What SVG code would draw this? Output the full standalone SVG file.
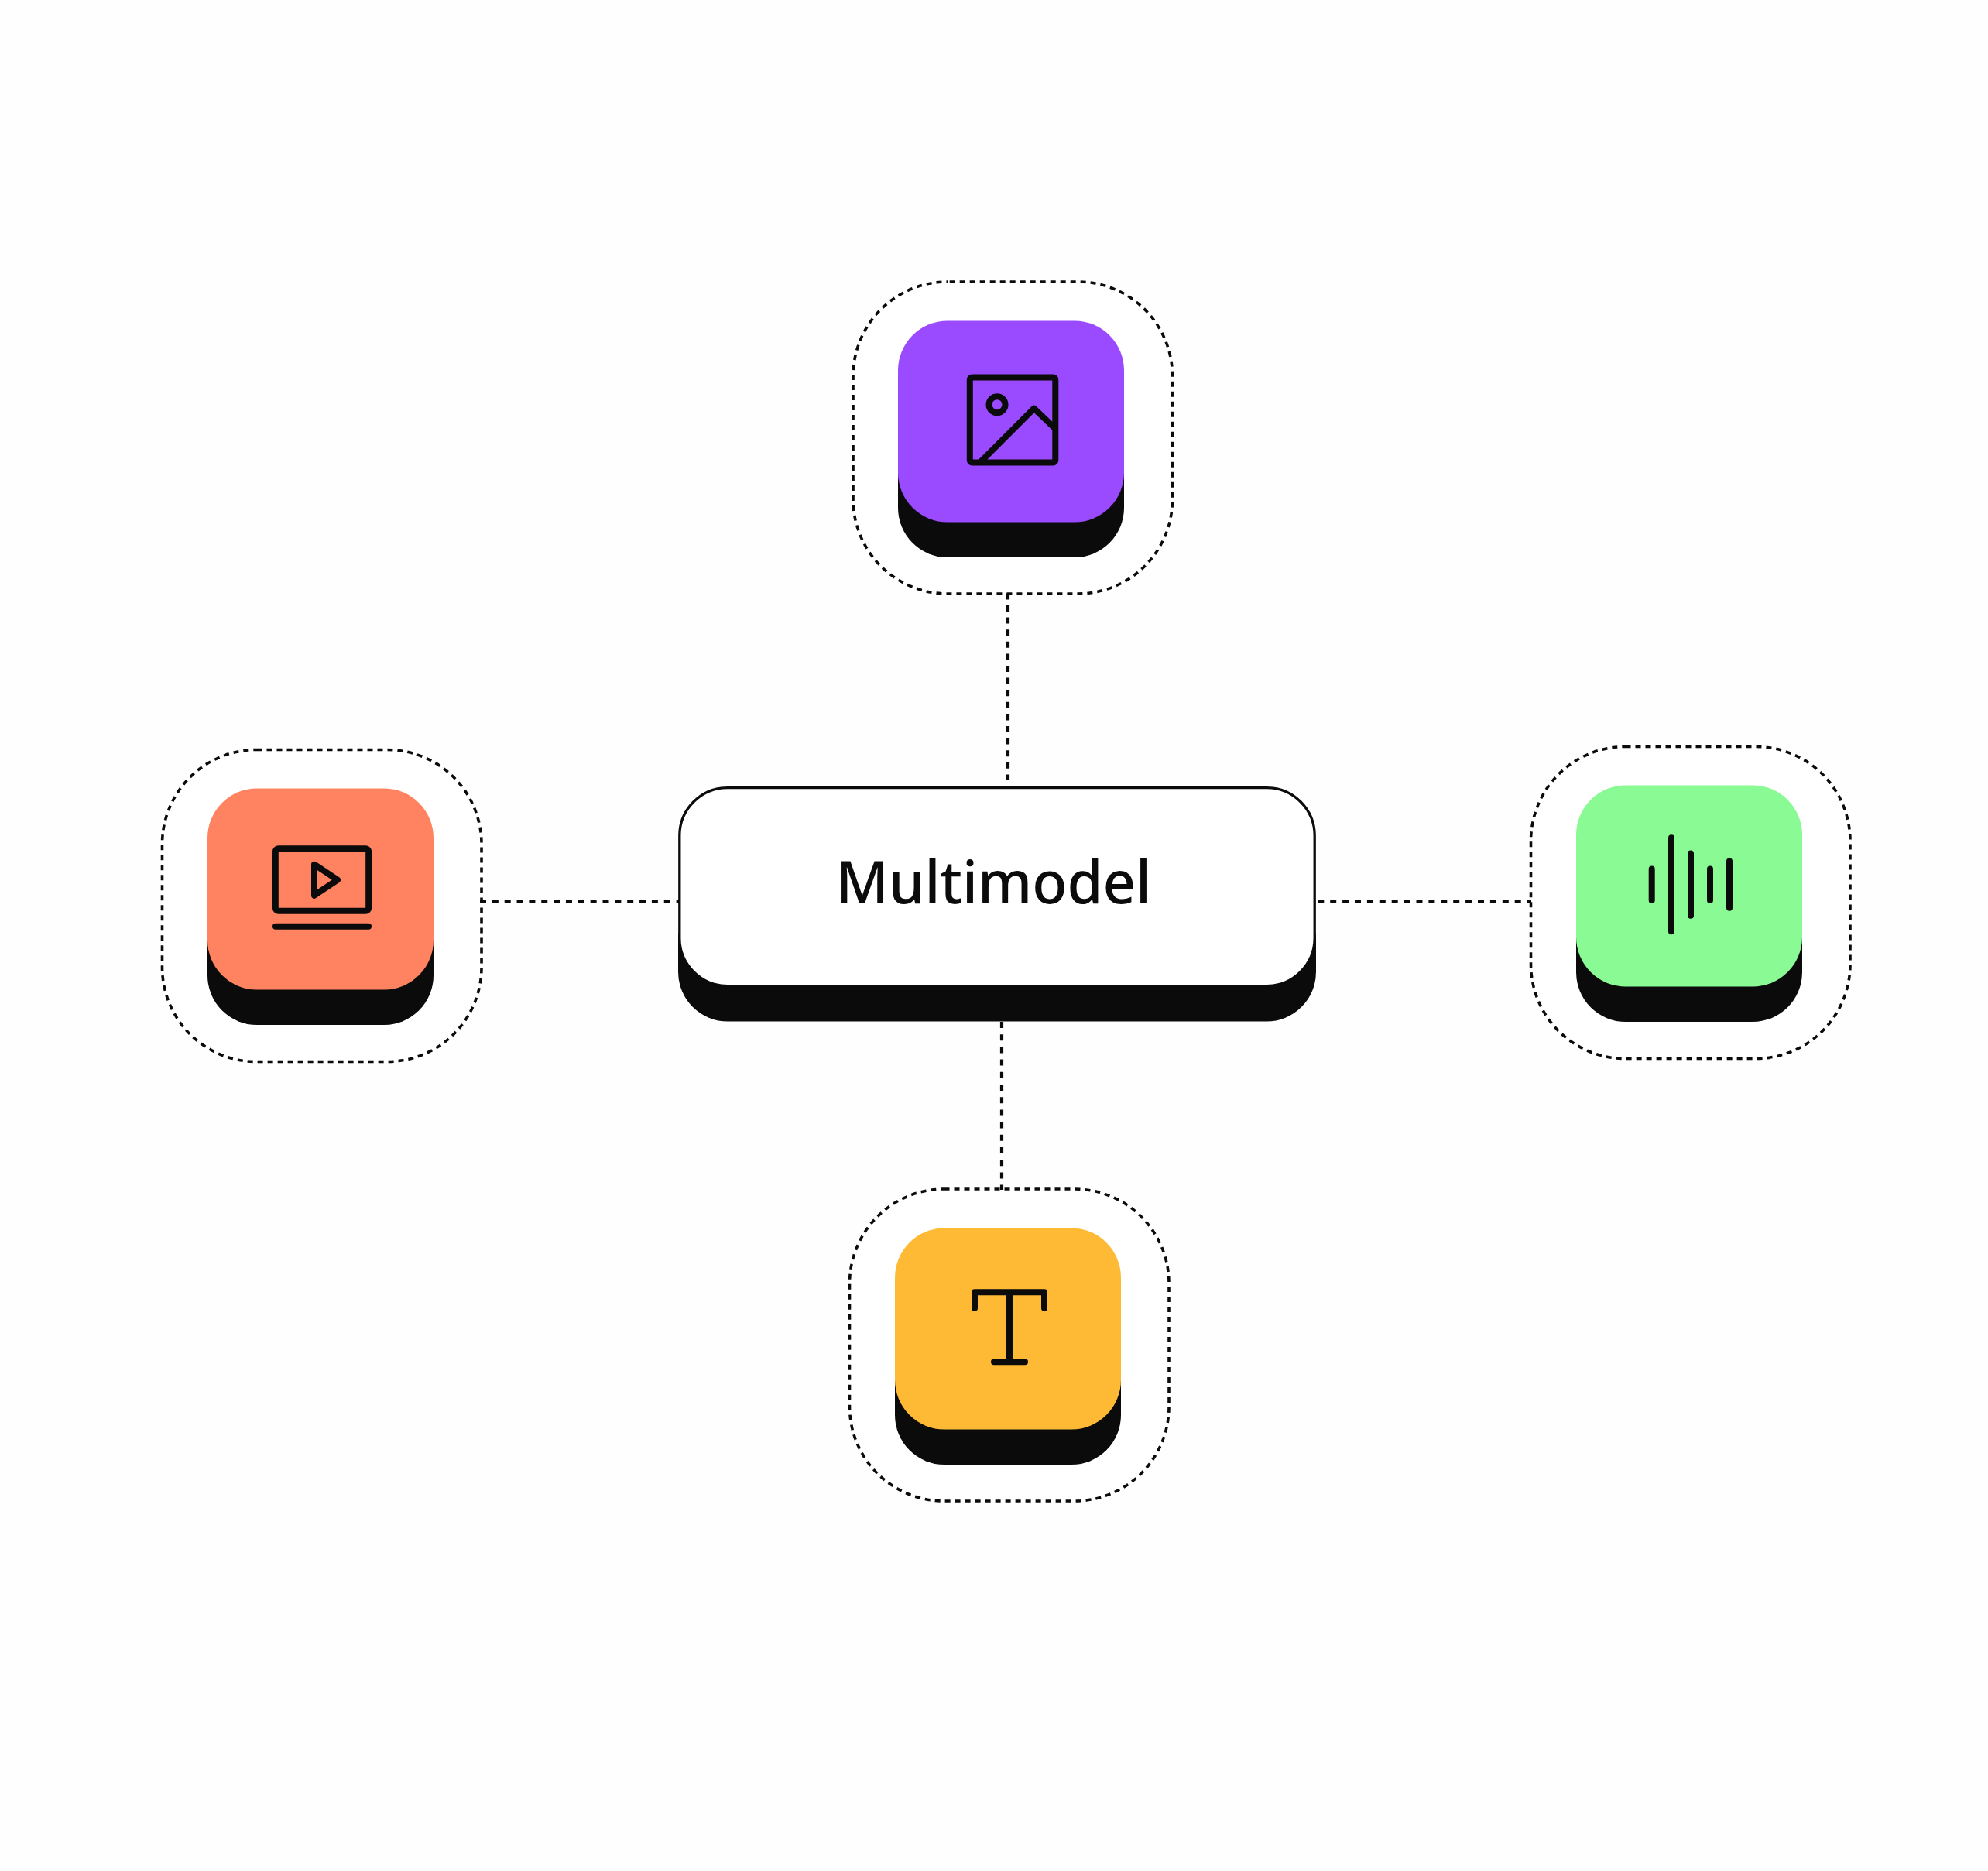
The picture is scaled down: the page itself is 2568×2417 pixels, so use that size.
<svg xmlns="http://www.w3.org/2000/svg" width="2568" height="2417" viewBox="0 0 2568 2417">
<style>
.frame{fill:#fff;stroke:#0b0b0b;stroke-width:3.600;stroke-dasharray:7 6}
.conn{fill:none;stroke:#0b0b0b;stroke-width:4.200}
.base{fill:#0b0b0b}
.ic{fill:none;stroke:#0b0b0b;stroke-width:8;stroke-linecap:round;stroke-linejoin:round}
.label{font-family:"Noto Sans","Open Sans",sans-serif;font-size:76px;font-weight:500;fill:#0b0b0b}
</style>
<rect width="2568" height="2417" fill="#fefefe"/>
<g id="frames-and-icons">
<g id="node-image">
<rect class="frame" x="1102" y="364" width="412.500" height="403" rx="122" ry="122" stroke-dashoffset="-2.700"/>
<rect class="base" x="1160" y="460" width="292" height="260" rx="64"/>
<rect x="1160" y="414.500" width="292" height="260" rx="64" fill="#9a4bff"/>
<rect class="ic" x="1252.800" y="487.500" width="110.500" height="110" rx="3"/>
<circle class="ic" cx="1288" cy="522.700" r="10.500"/>
<path class="ic" d="M1266.700 596.700L1335.700 527.700L1362.700 553.300"/>
</g>
<g id="node-video">
<rect class="frame" x="209.500" y="968.500" width="412.500" height="403" rx="122" ry="122"/>
<rect class="base" x="268" y="1064" width="292" height="260" rx="64"/>
<rect x="268" y="1018.500" width="292" height="260" rx="64" fill="#ff8360"/>
<rect class="ic" x="355.800" y="1096.200" width="120.400" height="80.600" rx="4"/>
<path class="ic" d="M406 1116.700L436 1136.700L406 1156.700Z"/>
<path class="ic" d="M356 1196.700H476"/>
</g>
<g id="node-audio">
<rect class="frame" x="1977.500" y="964.500" width="412.500" height="403" rx="122" ry="122"/>
<rect class="base" x="2036" y="1060" width="292" height="260" rx="64"/>
<rect x="2036" y="1014.500" width="292" height="260" rx="64" fill="#8afa94"/>
<path class="ic" d="M2133.700 1122.500V1163M2159 1082.200V1203.200M2184 1102.500V1182.800M2209 1122.500V1163M2234 1112.500V1172.800"/>
</g>
<g id="node-text">
<rect class="frame" x="1097.500" y="1536" width="412.500" height="403" rx="122" ry="122"/>
<rect class="base" x="1156" y="1632" width="292" height="260" rx="64"/>
<rect x="1156" y="1586.500" width="292" height="260" rx="64" fill="#ffba35"/>
<path class="ic" d="M1259 1689.800V1669.200H1349V1689.800M1304 1669.200V1759.300M1284 1759.300H1324"/>
</g>
</g>
<g id="connectors">
<path class="conn" stroke-dasharray="8 7.600" d="M1302 766.400V1008"/>
<path class="conn" stroke-dasharray="8 8.200" d="M1294 1320V1537"/>
<path class="conn" stroke-dasharray="8 7.850" d="M620 1164.300H877"/>
<path class="conn" stroke-dasharray="8 7.900" d="M1702.300 1164.300H1978"/>
</g>
<g id="node-center">
<rect class="base" x="876" y="1150" width="824" height="169.500" rx="64"/>
<rect x="877.800" y="1017.600" width="820.400" height="256" rx="62" fill="#fff" stroke="#0b0b0b" stroke-width="3.300"/>
<text class="label" x="1080" y="1167" textLength="407" lengthAdjust="spacingAndGlyphs">Multimodel</text>
</g>
</svg>
